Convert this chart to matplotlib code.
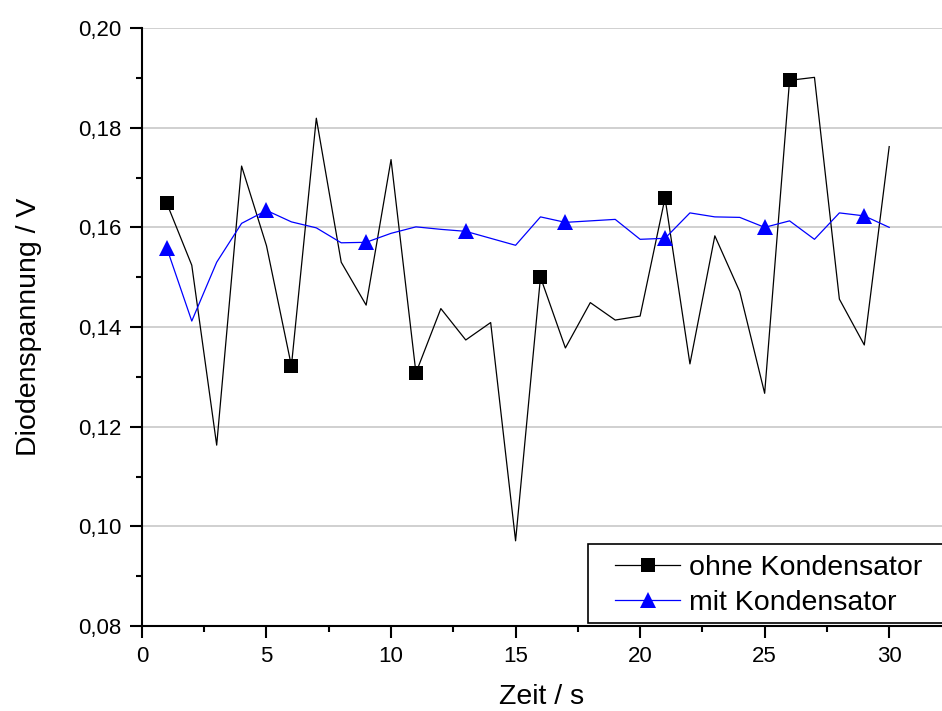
import matplotlib
matplotlib.use("Agg")
import matplotlib.pyplot as plt
from matplotlib.patches import Rectangle
from matplotlib.ticker import MultipleLocator, FuncFormatter

# Messdaten: Zeit in s, Diodenspannung in V
zeit = list(range(1, 31))
ohne_kondensator = [0.1648, 0.1524, 0.1163, 0.1723, 0.1563, 0.1322, 0.1819, 0.1530, 0.1444, 0.1736,
                    0.1308, 0.1437, 0.1374, 0.1409, 0.0971, 0.1500, 0.1358, 0.1449, 0.1414, 0.1422,
                    0.1659, 0.1326, 0.1583, 0.1471, 0.1267, 0.1895, 0.1901, 0.1456, 0.1364, 0.1762]
mit_kondensator = [0.1558, 0.1412, 0.1530, 0.1608, 0.1634, 0.1611, 0.1599, 0.1569, 0.1570, 0.1588,
                   0.1601, 0.1596, 0.1592, 0.1578, 0.1564, 0.1621, 0.1610, 0.1613, 0.1616, 0.1576,
                   0.1578, 0.1629, 0.1621, 0.1620, 0.1600, 0.1613, 0.1576, 0.1629, 0.1623, 0.1600]

plt.rcParams['font.family'] = ['Liberation Sans', 'DejaVu Sans']

fig = plt.figure(figsize=(9.42, 7.11), dpi=100)
ax = fig.add_axes([0.1507, 0.1195, 0.8493, 0.8411])

ax.plot(zeit, ohne_kondensator, color="black", linewidth=0.9, marker="s", markersize=10,
        markevery=(0, 5), markeredgewidth=0, label="ohne Kondensator")
ax.plot(zeit, mit_kondensator, color="#0000ff", linewidth=0.9, marker="^", markersize=12,
        markevery=(0, 4), markeredgewidth=0, label="mit Kondensator")

ax.set_xlim(0, 32.12)
ax.set_ylim(0.08, 0.20)
ax.xaxis.set_major_locator(MultipleLocator(5))
ax.xaxis.set_minor_locator(MultipleLocator(2.5))
ax.yaxis.set_major_locator(MultipleLocator(0.02))
ax.yaxis.set_minor_locator(MultipleLocator(0.01))
ax.yaxis.set_major_formatter(FuncFormatter(lambda v, p: ("%.2f" % v).replace(".", ",")))

ax.grid(axis="y", color="#c8c8c8", linewidth=1.2)
ax.set_axisbelow(True)
for t in ax.yaxis.get_major_ticks():
    if abs(t.get_loc() - 0.20) < 1e-9:
        t.gridline.set_visible(False)

ax.spines["top"].set_visible(False)
ax.spines["right"].set_visible(False)
ax.spines["left"].set_linewidth(1.5)
ax.spines["bottom"].set_linewidth(1.5)
ax.tick_params(which="major", direction="out", length=8.5, width=1.5, labelsize=16)
ax.tick_params(which="minor", direction="out", length=4.5, width=1.5)
ax.tick_params(axis="y", which="major", pad=6)
ax.tick_params(axis="x", which="major", pad=6)

ax.set_xlabel("Zeit / s", fontsize=20.5, labelpad=12)
ax.set_ylabel("Diodenspannung / V", fontsize=20.5, labelpad=26)

# Legendenrahmen (reicht wie im Original ueber den rechten Rand hinaus)
frame = Rectangle((588 / 942, 1 - 623 / 711), 0.5, 79 / 711, transform=fig.transFigure,
                  facecolor="white", edgecolor="black", linewidth=1.2, clip_on=False, zorder=4)
ax.add_patch(frame)
leg = ax.legend(loc="upper left", bbox_to_anchor=(615 / 942, 1 - 555 / 711),
                bbox_transform=fig.transFigure, fontsize=20.5, frameon=False,
                handlelength=2.3, handletextpad=0.3, borderpad=0, labelspacing=0.32,
                borderaxespad=0)
leg.set_zorder(5)

fig.savefig("out.png", dpi=100)
